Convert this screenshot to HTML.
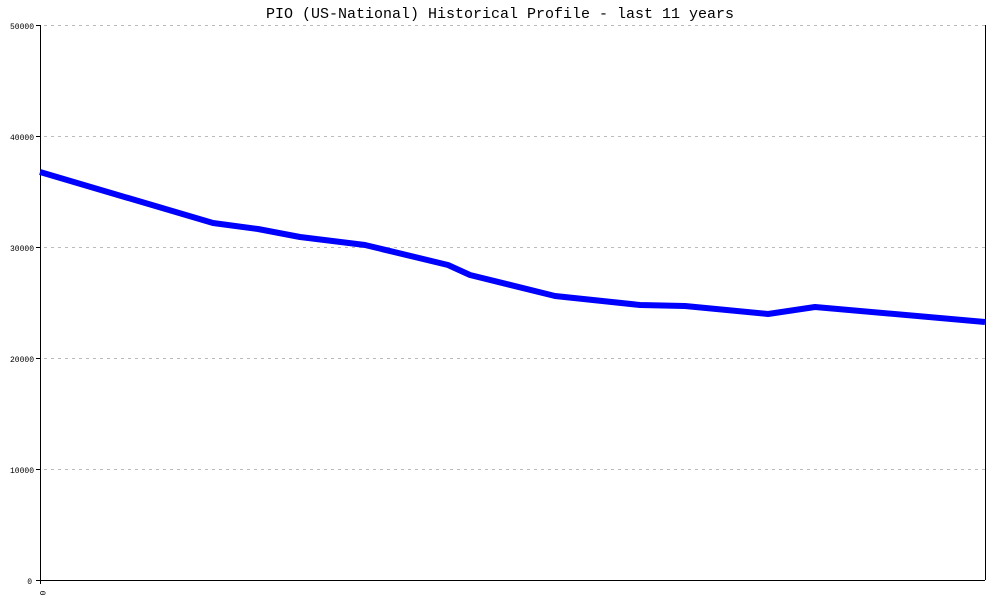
<!DOCTYPE html>
<html><head><style>body{margin:0;background:#fff}</style></head><body>
<svg width="1000" height="600" xmlns="http://www.w3.org/2000/svg" font-family="Liberation Mono, monospace">
<rect width="1000" height="600" fill="#fff"/>
<text x="500" y="18" text-anchor="middle" font-size="15" fill="#000">PIO (US-National) Historical Profile - last 11 years</text>
<g stroke="#bbb" stroke-dasharray="3,4" stroke-width="1">
<line x1="44" y1="25.5" x2="985" y2="25.5"/>
<line x1="44" y1="136.5" x2="985" y2="136.5"/>
<line x1="44" y1="247.5" x2="985" y2="247.5"/>
<line x1="44" y1="358.5" x2="985" y2="358.5"/>
<line x1="44" y1="469.5" x2="985" y2="469.5"/>
</g>
<g stroke="#000" stroke-width="1">
<line x1="40.5" y1="25" x2="40.5" y2="584"/>
<line x1="36" y1="580.5" x2="985" y2="580.5"/>
<line x1="985.5" y1="25" x2="985.5" y2="580"/>
<line x1="36" y1="25.5" x2="40" y2="25.5"/>
<line x1="36" y1="136.5" x2="40" y2="136.5"/>
<line x1="36" y1="247.5" x2="40" y2="247.5"/>
<line x1="36" y1="358.5" x2="40" y2="358.5"/>
<line x1="36" y1="469.5" x2="40" y2="469.5"/>
</g>
<g font-size="8" text-anchor="end" fill="#000">
<text x="34" y="29">50000</text>
<text x="34" y="140">40000</text>
<text x="34" y="251">30000</text>
<text x="34" y="362">20000</text>
<text x="34" y="473">10000</text>
<text x="32" y="584">0</text>
</g>
<text x="40" y="593" font-size="8" text-anchor="middle" transform="rotate(90 40 593)">0</text>
<polyline fill="none" stroke="#0000ff" stroke-width="6" stroke-linejoin="round"
points="40,172 213,223 258,229 300,237 365,245 448,265 470,275 555,296 640,305 685,306 768,314 815,307 985,322"/>
</svg>
</body></html>
